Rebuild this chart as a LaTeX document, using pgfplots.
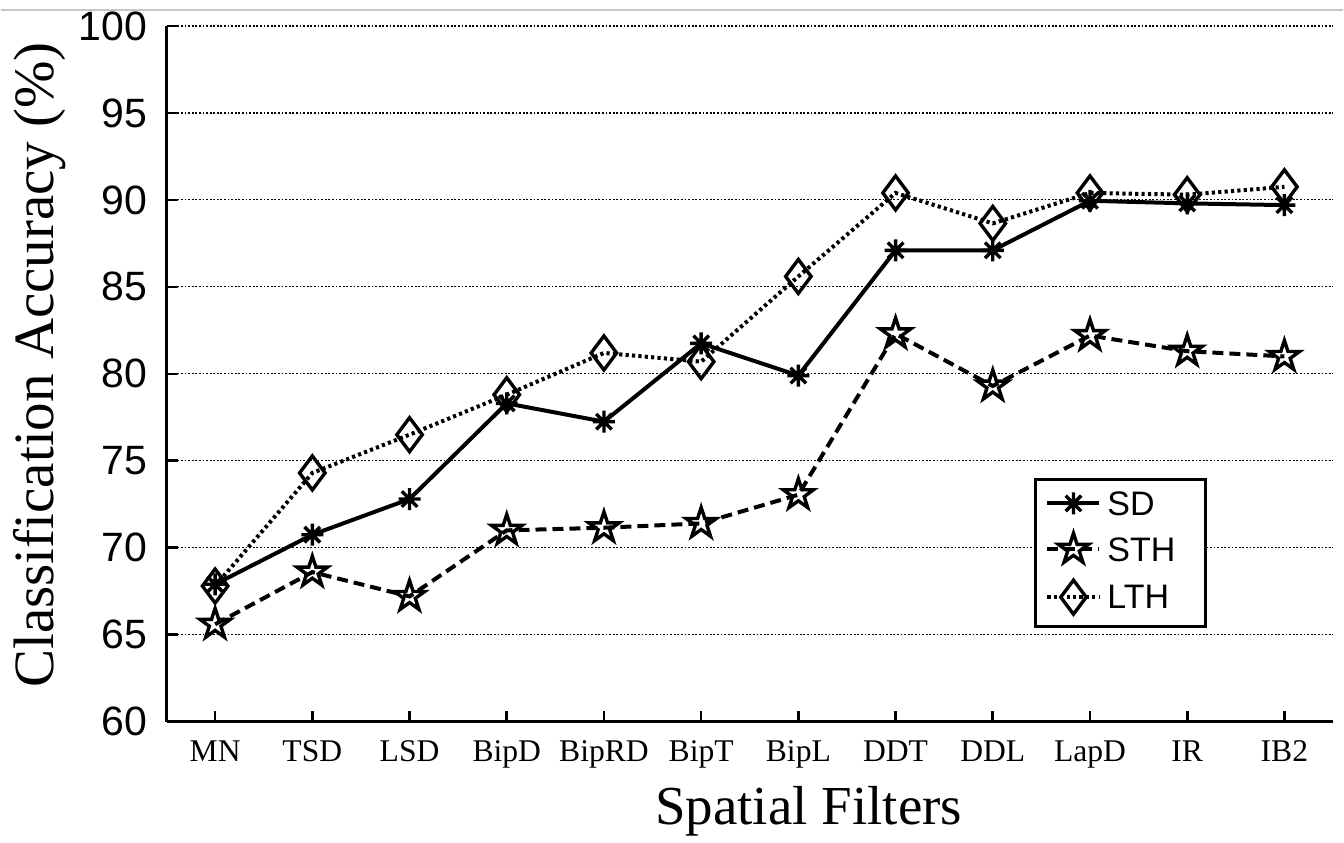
\documentclass[border=0pt]{standalone}
\usepackage{fontspec}
\setmainfont{Liberation Serif}
\newfontfamily\arial{Liberation Sans}
\usepackage{pgfplots}
\pgfplotsset{compat=1.18}
\usetikzlibrary{plotmarks}

\pgfdeclareplotmark{mast}{%
  \pgfpathmoveto{\pgfqpoint{-\pgfplotmarksize}{0pt}}\pgfpathlineto{\pgfqpoint{\pgfplotmarksize}{0pt}}%
  \pgfpathmoveto{\pgfqpoint{0pt}{-\pgfplotmarksize}}\pgfpathlineto{\pgfqpoint{0pt}{\pgfplotmarksize}}%
  \pgfpathmoveto{\pgfqpoint{-.707\pgfplotmarksize}{-.707\pgfplotmarksize}}\pgfpathlineto{\pgfqpoint{.707\pgfplotmarksize}{.707\pgfplotmarksize}}%
  \pgfpathmoveto{\pgfqpoint{-.707\pgfplotmarksize}{.707\pgfplotmarksize}}\pgfpathlineto{\pgfqpoint{.707\pgfplotmarksize}{-.707\pgfplotmarksize}}%
  \pgfusepathqstroke}
\pgfdeclareplotmark{mstar}{%
  \pgfpathmoveto{\pgfqpointpolar{90}{\pgfplotmarksize}}%
  \pgfpathlineto{\pgfqpointpolar{126}{.382\pgfplotmarksize}}%
  \pgfpathlineto{\pgfqpointpolar{162}{\pgfplotmarksize}}%
  \pgfpathlineto{\pgfqpointpolar{198}{.382\pgfplotmarksize}}%
  \pgfpathlineto{\pgfqpointpolar{234}{\pgfplotmarksize}}%
  \pgfpathlineto{\pgfqpointpolar{270}{.382\pgfplotmarksize}}%
  \pgfpathlineto{\pgfqpointpolar{306}{\pgfplotmarksize}}%
  \pgfpathlineto{\pgfqpointpolar{342}{.382\pgfplotmarksize}}%
  \pgfpathlineto{\pgfqpointpolar{18}{\pgfplotmarksize}}%
  \pgfpathlineto{\pgfqpointpolar{54}{.382\pgfplotmarksize}}%
  \pgfpathclose
  \pgfusepathqstroke}

\begin{document}
\begin{tikzpicture}
\begin{axis}[
  name=ax,
  scale only axis,
  width=583.5pt, height=348pt,
  xmin=-0.5, xmax=11.5,
  ymin=60, ymax=100,
  ytick={60,65,...,100},
  xtick={0,...,11},
  xticklabels={MN,TSD,LSD,BipD,BipRD,BipT,BipL,DDT,DDL,LapD,IR,IB2},
  axis x line*=bottom,
  axis y line*=left,
  axis line style={line width=1.6pt},
  tick align=inside,
  major tick length=5.5pt,
  every tick/.style={black, line width=1.3pt},
  ymajorgrids,
  major grid style={black, line width=0.6pt, dash pattern=on 0.9pt off 0.9pt},
  /pgf/number format/assume math mode=true,
  yticklabel style={font=\arial\fontsize{20.5}{20.5}\selectfont, anchor=east, inner sep=0pt, xshift=-9.5pt},
  xticklabel style={font=\fontsize{15.8}{15.8}\selectfont, anchor=base, inner sep=0pt, yshift=-20pt},
  xlabel={Spatial Filters},
  ylabel={Classification Accuracy (\%)},
  xlabel style={font=\fontsize{27.5}{27.5}\selectfont, at={(axis description cs:0.5505,-0.148)}, anchor=base},
  ylabel style={font=\fontsize{28.5}{28.5}\selectfont, at={(axis description cs:-0.0968,0.513)}, anchor=base},
  clip=false,
  legend cell align=left,
  legend image code/.code={\draw[mark repeat=2,mark phase=2,#1] plot coordinates {(0pt,0pt) (13pt,0pt) (26pt,0pt)};},
  legend style={at={(rel axis cs:0.892,0.135)}, anchor=south east, draw=black, line width=1.6pt, fill=white,
    font=\arial\fontsize{17}{17}\selectfont, inner xsep=5pt, inner ysep=6pt, row sep=9pt,
    nodes={inner sep=0pt, text depth=0pt}},
]
\addplot[black, line width=2pt, mark=mast, mark size=5.5pt, mark options={solid, line width=1.7pt}]
  coordinates {(0,67.9) (1,70.75) (2,72.8) (3,78.3) (4,77.25) (5,81.75) (6,79.9) (7,87.1) (8,87.1) (9,89.95) (10,89.8) (11,89.7)};
\addlegendentry{\makebox[47pt][l]{\hspace{3pt}SD}}
\addplot[black, line width=2pt, dash pattern=on 5.5pt off 3pt, mark=mstar, mark size=8pt, mark options={solid, line width=1.7pt}]
  coordinates {(0,65.6) (1,68.6) (2,67.2) (3,71.0) (4,71.15) (5,71.4) (6,73.05) (7,82.3) (8,79.3) (9,82.2) (10,81.3) (11,81.0)};
\addlegendentry{\makebox[47pt][l]{\hspace{3pt}STH}}
\addplot[black, line width=2pt, dash pattern=on 1.6pt off 1.6pt, mark=diamond, mark size=8.5pt, mark options={solid, line width=1.7pt}]
  coordinates {(0,67.8) (1,74.3) (2,76.5) (3,78.8) (4,81.2) (5,80.7) (6,85.6) (7,90.4) (8,88.65) (9,90.4) (10,90.3) (11,90.75)};
\addlegendentry{\makebox[47pt][l]{\hspace{3pt}LTH}}
\end{axis}
\path ([shift={(-83pt,-60pt)}]ax.south west) rectangle ([shift={(5.5pt,13pt)}]ax.north east);
\draw[black!22, line width=0.6pt] ([shift={(-83pt,8pt)}]ax.north west) -- ([shift={(5pt,8pt)}]ax.north east);
\end{tikzpicture}
\end{document}
